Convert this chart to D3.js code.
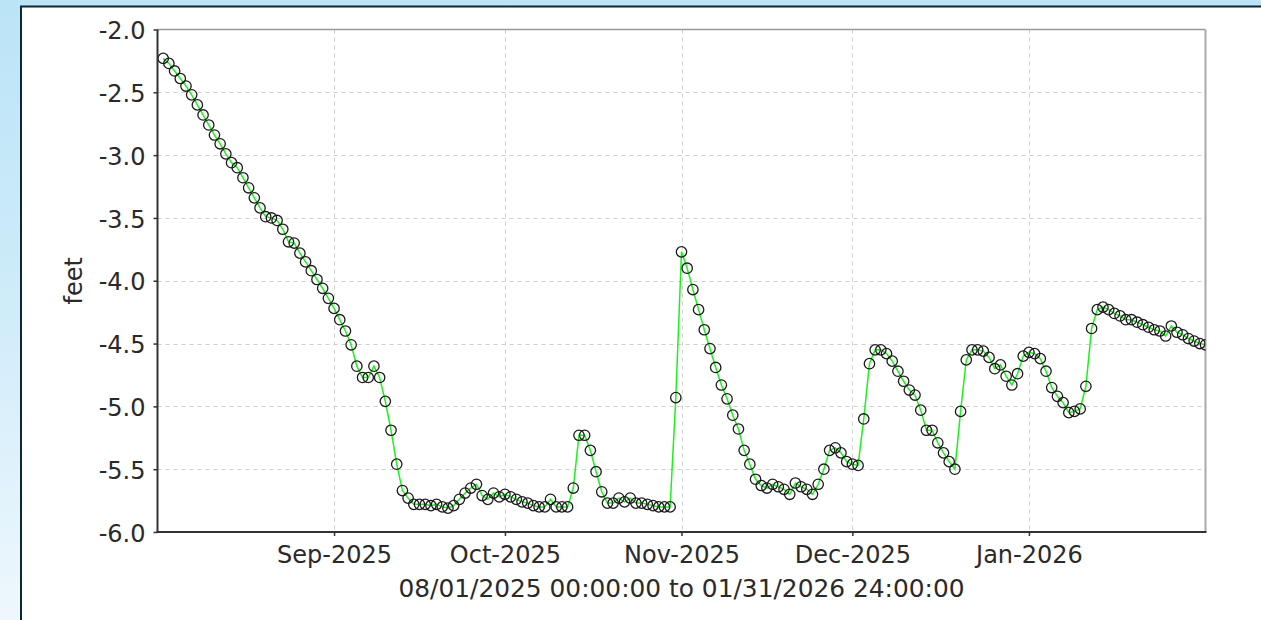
<!DOCTYPE html>
<html>
<head>
<meta charset="utf-8">
<script src="https://cdn.jsdelivr.net/npm/d3@7"></script>
<style>
  html, body { margin:0; padding:0; }
  body { width:1261px; height:620px; overflow:hidden;
         background: linear-gradient(to bottom, #bbe4f7 0%, #cdebf9 45%, #eef7fd 100%); }
  svg { display:block; }
  text { font-family: "DejaVu Sans", sans-serif; fill:#2a2a2a; }
</style>
</head>
<body>
<svg id="chart" width="1261" height="620"></svg>
<script>
// ---- data: daily values (feet), stamped at 24:00 of each day ----
const startDate = new Date(2025, 7, 1);
const endDate = new Date(2026, 1, 1);
const augValues = [-2.23,-2.27,-2.33,-2.39,-2.45,-2.52,-2.60,-2.68,-2.76,-2.84,-2.91,-2.99,-3.06,-3.10,-3.18,-3.26,-3.34,-3.42,-3.49,-3.50,-3.52,-3.59,-3.69,-3.70,-3.78,-3.85,-3.92,-3.99,-4.06,-4.14,-4.22];
const sepValues = [-4.31,-4.40,-4.51,-4.68,-4.77,-4.77,-4.68,-4.77,-4.96,-5.19,-5.46,-5.67,-5.73,-5.78,-5.78,-5.78,-5.79,-5.78,-5.80,-5.81,-5.79,-5.74,-5.69,-5.65,-5.62,-5.71,-5.74,-5.69,-5.72,-5.70];
const octValues = [-5.72,-5.74,-5.76,-5.77,-5.79,-5.80,-5.80,-5.74,-5.80,-5.80,-5.80,-5.65,-5.23,-5.23,-5.35,-5.52,-5.68,-5.77,-5.77,-5.73,-5.76,-5.73,-5.77,-5.77,-5.78,-5.79,-5.80,-5.80,-5.80,-4.93,-3.77];
const novValues = [-3.90,-4.07,-4.23,-4.39,-4.54,-4.69,-4.83,-4.94,-5.07,-5.18,-5.35,-5.46,-5.58,-5.63,-5.65,-5.62,-5.64,-5.66,-5.70,-5.61,-5.64,-5.66,-5.70,-5.62,-5.50,-5.35,-5.33,-5.37,-5.44,-5.46];
const decValues = [-5.47,-5.10,-4.66,-4.55,-4.55,-4.58,-4.64,-4.72,-4.80,-4.87,-4.91,-5.03,-5.19,-5.19,-5.29,-5.37,-5.44,-5.50,-5.04,-4.63,-4.55,-4.55,-4.56,-4.61,-4.70,-4.67,-4.76,-4.83,-4.74,-4.60,-4.57];
const janValues = [-4.58,-4.62,-4.72,-4.85,-4.92,-4.97,-5.05,-5.04,-5.02,-4.84,-4.38,-4.23,-4.21,-4.23,-4.26,-4.28,-4.31,-4.31,-4.33,-4.35,-4.37,-4.39,-4.40,-4.44,-4.36,-4.41,-4.43,-4.46,-4.48,-4.50,-4.51];
const yTickValues = [-6.0,-5.5,-5.0,-4.5,-4.0,-3.5,-3.0,-2.5,-2.0];
const xTickDates = [new Date(2025,8,1), new Date(2025,9,1), new Date(2025,10,1), new Date(2025,11,1), new Date(2026,0,1)];
const yLabel = "feet";
const xTitle = "08/01/2025 00:00:00 to 01/31/2026 24:00:00";

const allValues = [].concat(augValues, sepValues, octValues, novValues, decValues, janValues);
const data = allValues.map((v, i) => ({ date: d3.timeDay.offset(startDate, i + 1), value: v }));

// ---- layout ----
const L = 157.5, R = 1205.5, T = 29.5, B = 532;
const svg = d3.select("#chart");

// white panel with dark border
svg.append("rect").attr("x", 21).attr("y", 6.5).attr("width", 1300).attr("height", 700)
  .attr("fill", "#fff").attr("stroke", "#0c2838").attr("stroke-width", 2);

const x = d3.scaleTime().domain([startDate, endDate]).range([L, R]);
const y = d3.scaleLinear().domain([-6, -2]).range([B, T]);

// grid
const grid = svg.append("g").attr("stroke", "#d0d0d0").attr("stroke-width", 1).attr("stroke-dasharray", "4,4");
grid.selectAll("line.h").data(yTickValues.filter(v => v > -6 && v < -2)).join("line")
  .attr("x1", L).attr("x2", R).attr("y1", d => Math.round(y(d)) + 0.5).attr("y2", d => Math.round(y(d)) + 0.5);
grid.selectAll("line.v").data(xTickDates).join("line")
  .attr("y1", T).attr("y2", B).attr("x1", d => Math.round(x(d)) + 0.5).attr("x2", d => Math.round(x(d)) + 0.5);

// frame: top/right grey, left/bottom dark
svg.append("line").attr("x1", L).attr("x2", R).attr("y1", T).attr("y2", T).attr("stroke", "#999").attr("stroke-width", 1.5);
svg.append("line").attr("x1", R).attr("x2", R).attr("y1", T).attr("y2", B).attr("stroke", "#aaa").attr("stroke-width", 2);

// clip
svg.append("clipPath").attr("id", "clip").append("rect")
  .attr("x", L).attr("y", T - 10).attr("width", R - L).attr("height", B - T + 20);

const plot = svg.append("g").attr("clip-path", "url(#clip)");
const line = d3.line().x(d => x(d.date)).y(d => y(d.value));
plot.append("path").datum(data).attr("d", line).attr("fill", "none")
  .attr("stroke", "#1ef01e").attr("stroke-width", 1.5);
plot.selectAll("circle").data(data).join("circle")
  .attr("cx", d => x(d.date)).attr("cy", d => y(d.value)).attr("r", 5.2)
  .attr("fill", "none").attr("stroke", "#1a1a1a").attr("stroke-width", 1.3);

// axes
const yAxis = d3.axisLeft(y).tickValues(yTickValues).tickSize(4).tickPadding(8)
  .tickFormat(d => d.toFixed(1));
const gy = svg.append("g").attr("transform", `translate(${L},0)`).call(yAxis);
gy.select(".domain").remove();
gy.selectAll(".tick line").attr("stroke", "#333").attr("stroke-width", 1.5);
gy.selectAll(".tick text").attr("font-size", 24).attr("fill", "#2a2a2a").attr("dy", "0.38em")
  .style("font-family", "DejaVu Sans");

const xAxis = d3.axisBottom(x).tickValues(xTickDates).tickSize(4).tickPadding(10)
  .tickFormat(d3.timeFormat("%b-%Y"));
const gx = svg.append("g").attr("transform", `translate(0,${B})`).call(xAxis);
gx.select(".domain").remove();
gx.selectAll(".tick line").attr("stroke", "#333").attr("stroke-width", 1.5);
gx.selectAll(".tick text").attr("font-size", 24).attr("fill", "#2a2a2a").attr("y", 31).attr("dy", 0)
  .style("font-family", "DejaVu Sans");

svg.append("line").attr("x1", L).attr("x2", L).attr("y1", T).attr("y2", B + 1).attr("stroke", "#333").attr("stroke-width", 2);
svg.append("line").attr("x1", L - 1).attr("x2", R + 1).attr("y1", B).attr("y2", B).attr("stroke", "#333").attr("stroke-width", 2);

// titles
svg.append("text").attr("x", (L + R) / 2).attr("y", 596.5).attr("text-anchor", "middle")
  .attr("font-size", 24).attr("textLength", 566).attr("lengthAdjust", "spacingAndGlyphs").text(xTitle);
svg.append("text").attr("transform", `translate(81.5,${(T + B) / 2}) rotate(-90)`)
  .attr("text-anchor", "middle").attr("font-size", 24).text(yLabel);
</script>
</body>
</html>
